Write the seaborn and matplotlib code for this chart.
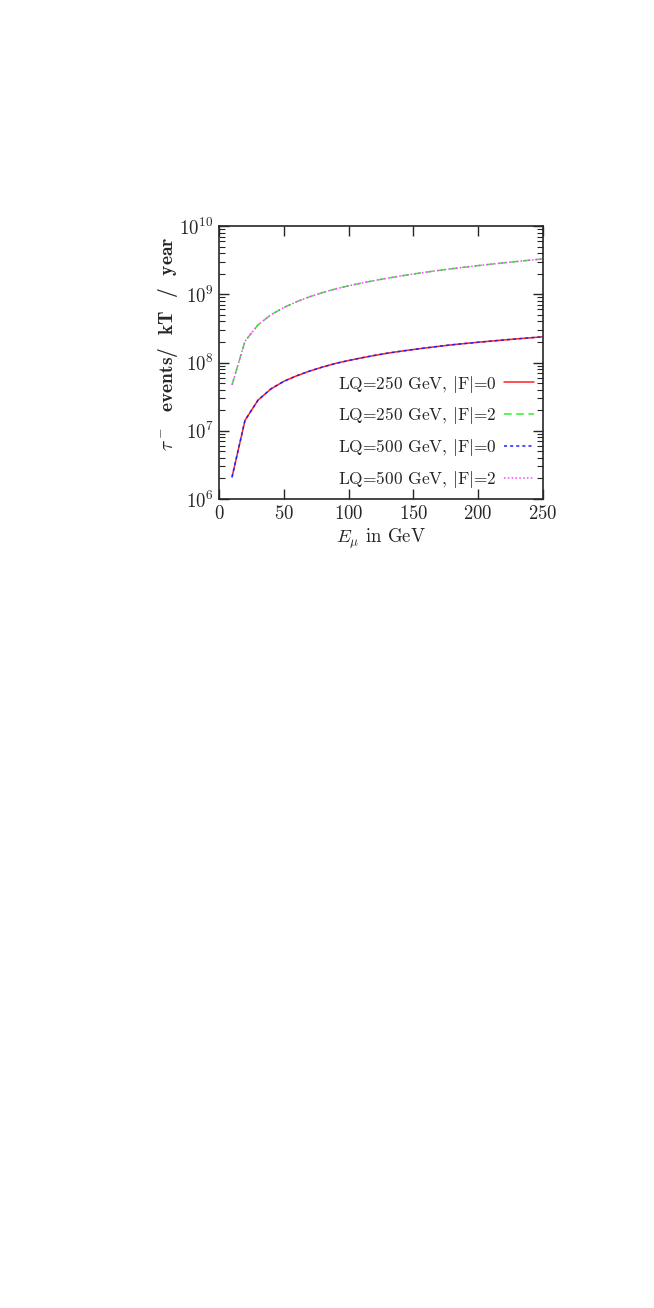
import numpy as np
import pandas as pd
import matplotlib
matplotlib.use("Agg")
import matplotlib.pyplot as plt
from matplotlib.ticker import LogLocator, MultipleLocator, NullFormatter
import seaborn as sns

# Energia del fascio (GeV)
e_mu = [10, 20, 30, 40, 50, 60, 70, 80, 90, 100, 110, 120, 130, 140, 150,
        160, 170, 180, 190, 200, 210, 220, 230, 240, 250]

# |F|=0 (curve inferiori)
f0_lq250 = [2.1e6, 1.42e7, 2.8e7, 4.1e7, 5.3e7, 6.4e7, 7.5e7, 8.6e7, 9.7e7, 1.07e8,
            1.17e8, 1.27e8, 1.37e8, 1.46e8, 1.55e8, 1.64e8, 1.73e8, 1.82e8, 1.90e8,
            1.98e8, 2.06e8, 2.14e8, 2.22e8, 2.30e8, 2.38e8]
f0_lq500 = list(f0_lq250)

# |F|=2 (curve superiori)
f2_lq250 = [4.7e7, 2.05e8, 3.55e8, 5.0e8, 6.4e8, 7.8e8, 9.2e8, 1.06e9, 1.20e9, 1.33e9,
            1.46e9, 1.59e9, 1.72e9, 1.85e9, 1.98e9, 2.11e9, 2.24e9, 2.37e9, 2.50e9,
            2.63e9, 2.76e9, 2.89e9, 3.02e9, 3.16e9, 3.30e9]
f2_lq500 = list(f2_lq250)

labels = [r"LQ=250 GeV, $|$F$|$=0", r"LQ=250 GeV, $|$F$|$=2",
          r"LQ=500 GeV, $|$F$|$=0", r"LQ=500 GeV, $|$F$|$=2"]
series = [f0_lq250, f2_lq250, f0_lq500, f2_lq500]
colors = ["#ff2020", "#30f030", "#2020ff", "#ff40ff"]
styles = ["-", (0, (5, 3)), (0, (2, 2)), (0, (1, 1.5))]

sns.set_style("ticks")
plt.rcParams["font.family"] = ["cmr10", "DejaVu Serif"]
plt.rcParams["mathtext.fontset"] = "cm"
plt.rcParams["axes.unicode_minus"] = False
plt.rcParams["axes.formatter.use_mathtext"] = True

fig = plt.figure(figsize=(6.54, 13.08), dpi=100)
ax = fig.add_axes([0.335, 0.6185, 0.495, 0.2087])

for lab, vals, c, ls in zip(labels, series, colors, styles):
    df = pd.DataFrame({"E": e_mu, "N": vals})
    sns.lineplot(data=df, x="E", y="N", ax=ax, color=c, linestyle=ls,
                 linewidth=1.1, label=lab)

ax.set_yscale("log")
ax.set_xlim(0, 250)
ax.set_ylim(1e6, 1e10)
ax.xaxis.set_major_locator(MultipleLocator(50))
ax.yaxis.set_major_locator(LogLocator(base=10, numticks=10))
ax.yaxis.set_minor_locator(LogLocator(base=10, subs=np.arange(2, 10), numticks=20))
ax.yaxis.set_minor_formatter(NullFormatter())
ax.tick_params(which="both", direction="in", top=True, right=True, labelsize=13.5, pad=4)
ax.tick_params(which="major", length=7, width=1.0)
ax.tick_params(which="minor", length=4, width=0.8)
for s in ax.spines.values():
    s.set_linewidth(1.2)

ax.set_xlabel(r"$E_\mu$ in GeV", fontsize=13.5, labelpad=3)
ax.set_ylabel(r"$\tau^-$  events/  kT  /  year", fontsize=14, fontfamily="cmb10")
ax.yaxis.set_label_coords(-0.12, 0.57)

leg = ax.legend(loc="lower right", frameon=False, markerfirst=False, fontsize=12.5,
                handlelength=1.75, handletextpad=0.4, labelspacing=0.63,
                borderaxespad=0.1)

fig.savefig("out.png", dpi=100)
